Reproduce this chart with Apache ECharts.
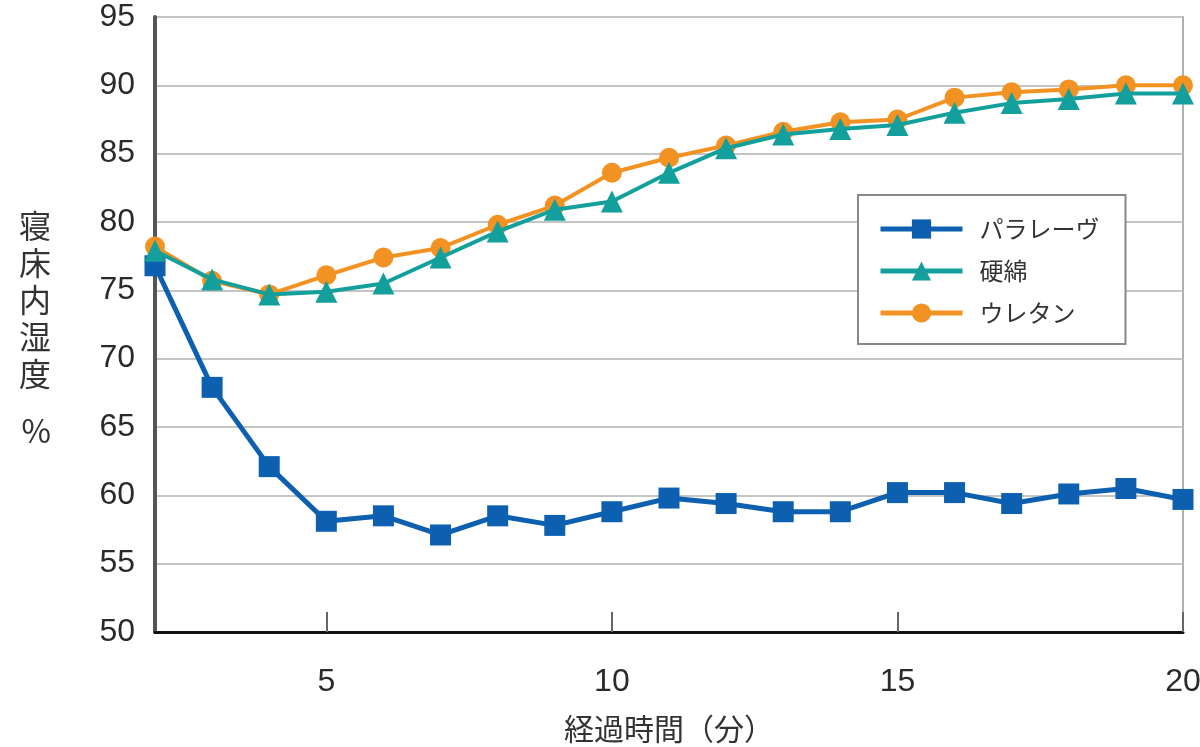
<!DOCTYPE html>
<html><head><meta charset="utf-8">
<script src="https://cdn.jsdelivr.net/npm/echarts@6/dist/echarts.min.js"></script>
<style>html,body{margin:0;padding:0;background:#fff}#c{width:1200px;height:747px}</style>
</head><body><div id="c"></div>
<script>
const minutes = [2,3,4,5,6,7,8,9,10,11,12,13,14,15,16,17,18,19,20];
const paraleve = [76.8,67.9,62.1,58.1,58.5,57.1,58.5,57.8,58.8,59.8,59.4,58.8,58.8,60.2,60.2,59.4,60.1,60.5,59.7];
const hardCotton = [77.9,75.8,74.7,74.9,75.5,77.4,79.3,80.9,81.5,83.6,85.4,86.4,86.8,87.1,88.0,88.7,89.0,89.4,89.4];
const urethane = [78.2,75.7,74.7,76.1,77.4,78.1,79.8,81.2,83.6,84.7,85.6,86.6,87.3,87.5,89.1,89.5,89.7,90.0,90.0];
const xTicks = [5,10,15,20];
const seriesNames = ['パラレーヴ','硬綿','ウレタン'];

const font = '"Liberation Sans", Arial, "Noto Sans CJK JP", sans-serif';
const cjk = '"Noto Sans CJK JP", sans-serif';
const pair = a => minutes.map((m,i)=>[m,a[i]]);
const chart = echarts.init(document.getElementById('c'));
chart.setOption({
  animation:false,
  textStyle:{fontFamily:font},
  grid:{left:155,right:17,top:17,bottom:115,show:true,borderColor:'#b0b0b0',borderWidth:2,
        containLabel:false,outerBoundsMode:'none'},
  legend:{
    orient:'vertical',left:858,top:195,
    padding:[22,26,19,20],
    borderColor:'#888',borderWidth:2,backgroundColor:'#fff',
    itemWidth:82,itemHeight:24,itemGap:18,
    lineStyle:{width:5},
    textStyle:{fontSize:24,color:'#333',fontFamily:cjk,padding:[0,0,0,12]},
    data:seriesNames
  },
  xAxis:{
    type:'value',min:2,max:20,
    name:'経過時間（分）',nameLocation:'middle',nameGap:82,
    nameTextStyle:{fontSize:30,color:'#333',fontFamily:cjk},
    axisLine:{lineStyle:{color:'#111',width:3}},
    axisTick:{show:true,inside:true,length:20,lineStyle:{color:'#666',width:2},customValues:xTicks},
    axisLabel:{fontSize:32,color:'#2a2a2a',margin:34,customValues:xTicks},
    splitLine:{show:false}
  },
  yAxis:{
    type:'value',min:50,max:95,interval:5,
    name:'寝\n床\n内\n湿\n度\n{gap|　}\n%',nameLocation:'middle',nameRotate:0,nameGap:104,
    nameTextStyle:{fontSize:32,color:'#333',lineHeight:37,fontFamily:cjk,padding:[8,0,0,0],
      rich:{gap:{fontSize:10,lineHeight:20}}},
    axisLine:{show:true,lineStyle:{color:'#555',width:4}},
    axisTick:{show:false},
    axisLabel:{fontSize:32,color:'#2a2a2a',margin:20},
    splitLine:{lineStyle:{color:'#c4c4c4',width:2}}
  },
  series:[
    {name:seriesNames[0],type:'line',data:pair(paraleve),symbol:'rect',symbolSize:21,
     lineStyle:{color:'#0d60b0',width:5},itemStyle:{color:'#0d60b0'}},
    {name:seriesNames[1],type:'line',data:pair(hardCotton),symbol:'triangle',symbolSize:22,
     lineStyle:{color:'#13a09c',width:4},itemStyle:{color:'#13a09c'},z:4},
    {name:seriesNames[2],type:'line',data:pair(urethane),symbol:'circle',symbolSize:20,
     lineStyle:{color:'#f29223',width:4},itemStyle:{color:'#f29223'},z:3}
  ]
});
</script></body></html>
